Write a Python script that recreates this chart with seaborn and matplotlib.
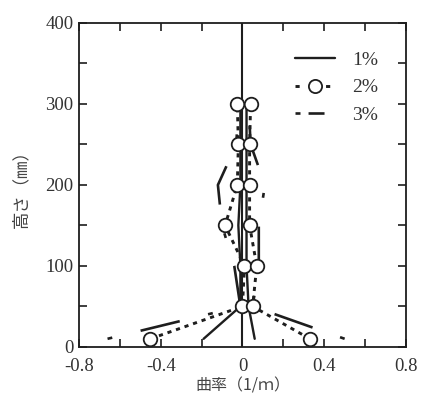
import matplotlib
matplotlib.use("Agg")
import matplotlib.pyplot as plt
from matplotlib.lines import Line2D
from matplotlib.ticker import MultipleLocator
import seaborn as sns
import pandas as pd

# ---- data ----
heights = [10, 50, 100, 150, 200, 250, 300]
drift_1_neg = [-0.19, -0.01, -0.01, -0.02, -0.01, -0.01, -0.01]
drift_1_pos = [0.06, 0.03, 0.02, 0.02, 0.02, 0.02, 0.02]
drift_2_neg = [-0.45, 0.00, 0.01, -0.085, -0.025, -0.02, -0.025]
drift_2_pos = [0.33, 0.05, 0.07, 0.035, 0.035, 0.035, 0.04]
drift_3_neg = [-0.66, -0.01, -0.04, -0.10, -0.12, -0.03, -0.02]
drift_3_pos = [0.50, 0.05, 0.08, 0.08, 0.11, 0.04, 0.03]
legend_labels = ["1%", "2%", "3%"]
x_ticks = [-0.8, -0.4, 0, 0.4, 0.8]
x_tick_labels = ["-0.8", "-0.4", "0", "0.4", "0.8"]
y_ticks = [0, 100, 200, 300, 400]

sns.set_style("ticks")
plt.rcParams["lines.scale_dashes"] = False
plt.rcParams["font.family"] = ["Liberation Serif", "DejaVu Serif"]

ink = "#1e1e1e"
fig = plt.figure(figsize=(4.22, 3.96), dpi=100)
ax = fig.add_axes([0.187, 0.124, 0.775, 0.818])

def branch(xs, **kw):
    df = pd.DataFrame({"curv": xs, "h": heights})
    sns.lineplot(data=df, x="curv", y="h", sort=False, estimator=None,
                 ax=ax, color=ink, legend=False, **kw)

# zero line
ax.axvline(0, color=ink, lw=1.5, zorder=2)

# 1% solid
branch(drift_1_neg, lw=1.7, linestyle="-", zorder=3)
branch(drift_1_pos, lw=1.7, linestyle="-", zorder=3)
# 3% short/long dashes
dash3 = (0, (3.5, 21, 29, 21))
branch(drift_3_neg, lw=1.9, linestyle=dash3, zorder=3)
branch(drift_3_pos, lw=1.9, linestyle=dash3, zorder=3)
# 2% dotted with circle markers
dot2 = (0, (3, 3.5))
branch(drift_2_neg, lw=2.1, linestyle=dot2, zorder=4)
branch(drift_2_pos, lw=2.1, linestyle=dot2, zorder=4)
mk = pd.DataFrame({"curv": drift_2_neg + drift_2_pos, "h": heights + heights})
sns.scatterplot(data=mk, x="curv", y="h", ax=ax, s=95, marker="o",
                facecolor="white", edgecolor=ink, linewidth=1.3, zorder=6,
                legend=False)

ax.set_xlim(-0.8, 0.8)
ax.set_ylim(0, 400)
ax.set_xticks(x_ticks)
ax.set_xticklabels(x_tick_labels)
ax.set_yticks(y_ticks)
ax.xaxis.set_minor_locator(MultipleLocator(0.2))
ax.yaxis.set_minor_locator(MultipleLocator(50))
ax.tick_params(which="both", direction="in", length=6, width=1.2,
               top=True, right=True, colors=ink, labelcolor="#333333",
               labelsize=13.5)
ax.tick_params(axis="x", pad=8)
ax.tick_params(axis="y", pad=4)
for s in ax.spines.values():
    s.set_linewidth(1.3)
    s.set_color(ink)
    s.set_visible(True)

cjk = ["Noto Sans CJK JP", "DejaVu Sans"]
ax.set_xlabel("曲率（1/ｍ）", family=cjk, fontsize=11.5, color="#444444")
ax.set_ylabel("高さ（㎜）", family=cjk, fontsize=12.5, color="#444444")
ax.xaxis.set_label_coords(0.5, -0.094)
ax.yaxis.set_label_coords(-0.15, 0.5)

handles = [
    Line2D([], [], color=ink, lw=1.7, linestyle="-"),
    Line2D([], [], color=ink, lw=2.1, linestyle=(0, (3, 8)), marker="o",
           markersize=9.5, markerfacecolor="white", markeredgecolor=ink,
           markeredgewidth=1.3),
    Line2D([], [], color=ink, lw=1.9, linestyle=(0, (3.6, 5.8, 11.5, 30))),
]
ax.legend(handles, legend_labels, loc="upper left",
          bbox_to_anchor=(0.66, 0.912), frameon=False, fontsize=14,
          handlelength=2.05, handletextpad=0.9, labelspacing=0.5,
          borderpad=0, borderaxespad=0, numpoints=1, labelcolor="#333333")

fig.savefig("out.png", dpi=100)
